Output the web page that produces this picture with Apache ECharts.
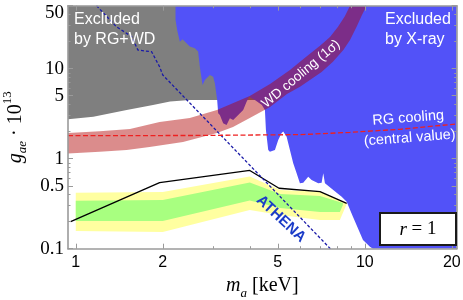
<!DOCTYPE html>
<html><head><meta charset="utf-8">
<script src="https://cdn.jsdelivr.net/npm/echarts@6/dist/echarts.min.js"></script>
<style>html,body{margin:0;padding:0;background:#fff}#c{width:463px;height:300px}</style>
</head><body><div id="c"></div>
<script>
// ---- tick values ----
const mTicksMajor = [1, 2, 5, 10, 20];
const mTicksMinor = [3, 4, 6, 7, 8, 9];
const gTicksMajor = [0.1, 0.5, 1, 5, 10, 50];
const gTicksMinor = [0.2, 0.3, 0.4, 0.6, 0.7, 0.8, 0.9, 2, 3, 4, 6, 7, 8, 9, 20, 30, 40];

// ---- regions [m_a (keV), g_ae*1e13] ----
const rgwdExcluded = [[0.94,50],[0.94,2.74],[1.15,2.93],[1.5,3.48],[1.85,3.95],[2.12,4.32],[2.48,4.49],[3.07,4.49],[6,4.49],[6,50]];
const xrayExcluded = [[2.214,50],[2.214,34.8],[2.243,26.9],[2.292,19.95],[2.342,21.2],[2.417,19.15],[2.481,17.56],[2.582,16.85],[2.651,15.45],[2.687,10.5],[2.746,6.59],[2.797,7.49],[2.911,8.51],[2.988,8.15],[3.029,6.88],[3.085,4.49],[3.11,3.19],[3.152,3.06],[3.236,2.47],[3.325,2.37],[3.414,2.81],[3.505,2.69],[3.648,3.06],[3.796,3.48],[3.9,4.3],[3.982,4.88],[4.059,4.69],[4.167,4.49],[4.406,3.95],[4.513,3.48],[4.549,2.08],[4.634,1.25],[4.696,1.196],[4.888,1.25],[5.018,1.61],[5.156,1.93],[5.222,2.0],[5.365,1.756],[5.508,1.25],[5.655,0.889],[5.81,0.688],[5.965,0.533],[6.124,0.541],[6.373,0.631],[6.548,0.58],[6.902,0.533],[7.092,0.541],[7.183,0.688],[7.281,0.533],[7.78,0.449],[8.318,0.378],[8.657,0.333],[9.101,0.227],[9.858,0.125],[10.42,0.105],[10.68,0.1],[20.8,0.1],[20.8,50]];
const coolingUpper = [[0.94,1.93],[1.21,2.01],[1.54,2.14],[1.95,2.56],[2.48,2.83],[3.08,3.48],[4.0,4.97],[4.7,6.76],[5.51,9.67],[5.97,11.9],[6.46,14.6],[7.0,17.9],[7.58,22.5],[8.08,29.1],[8.54,38.5],[8.89,50]];
const coolingLower = [[0.94,1.14],[1.21,1.19],[1.5,1.25],[1.8,1.35],[2.35,1.53],[3.08,1.93],[3.5,2.25],[4.0,2.83],[4.7,3.75],[5.38,5.23],[5.97,6.31],[6.46,7.49],[7.09,9.19],[7.76,11.9],[8.43,16.1],[8.89,20.8],[9.38,29.3],[9.78,39.5],[10.15,50]];
const rgCentral = [[0.94,1.80],[2.69,1.81],[5.97,1.85],[8.89,1.96],[13.2,2.12],[20.8,2.43]];
const yellowUpper = [[1,0.419],[2,0.427],[4,0.634],[5.1,0.449],[7,0.43],[8.66,0.318]];
const yellowLower = [[1,0.157],[2,0.153],[4,0.269],[5.1,0.237],[7,0.208],[8.2,0.208],[8.66,0.314]];
const greenUpper = [[1,0.341],[2,0.348],[4,0.544],[5.1,0.405],[7,0.385],[8.4,0.322]];
const greenLower = [[1,0.203],[2,0.203],[4,0.343],[5.1,0.283],[7,0.256],[8.2,0.256],[8.4,0.306]];
const blackLine = [[0.96,0.2],[1.95,0.541],[4.0,0.74],[5.05,0.469],[7.0,0.43],[8.66,0.319]];
const athena = [[1.18,50],[1.38,29.3],[1.56,22.7],[1.64,16.1],[1.83,15.4],[1.95,10.5],[2.0,8.5],[7.6,0.1]];

const L = v => Math.log10(v);
const XMIN = L(0.94), XMAX = L(20.8), YMIN = -1, YMAX = L(50);
const toLog = arr => arr.map(p => [L(p[0]), L(p[1])]);
const closed = (up, low) => up.concat(low.slice().reverse());

function polySeries(name, pts, fill, z) {
  const data = toLog(pts);
  return {
    type: 'custom', name, z, clip: true, silent: true, data, encode: {x: 0, y: 1},
    renderItem: (params, api) => {
      if (params.dataIndex !== 0) return null;
      return {type: 'polygon', shape: {points: data.map(d => api.coord(d))}, style: {fill}};
    }
  };
}
function lineSeries(name, pts, color, width, type, z) {
  return {type: 'line', name, z, data: toLog(pts), symbol: 'none', silent: true,
    lineStyle: {color, width, type}};
}
const AX = '#9a9a9a';
function axis(dim, pos, vals, len, showLine, extra) {
  const o = {
    type: 'value', position: pos, z: 50,
    min: dim === 'x' ? XMIN : YMIN, max: dim === 'x' ? XMAX : YMAX,
    axisLine: {show: showLine, onZero: false, lineStyle: {color: AX, width: 1.6}},
    axisTick: {show: true, inside: true, length: len, customValues: vals.map(L), lineStyle: {color: AX, width: 1}},
    axisLabel: {show: false},
    splitLine: {show: false}
  };
  return Object.assign(o, extra || {});
}
const serif = 'Liberation Serif';
const sans = 'Liberation Sans';

const xMain = axis('x', 'bottom', mTicksMajor, 5, true, {
  axisLabel: {show: true, customValues: mTicksMajor.map(L), margin: 6, color: '#000',
    fontFamily: sans, fontSize: 16,
    formatter: v => String(Math.round(Math.pow(10, v)))},
  name: '{m|m}{s|a}{t| [keV]}', nameLocation: 'middle', nameGap: 22,
  nameTextStyle: {color: '#000', rich: {
    m: {fontFamily: serif, fontStyle: 'italic', fontSize: 20, lineHeight: 28, verticalAlign: 'middle', color: '#000'},
    s: {fontFamily: serif, fontStyle: 'italic', fontSize: 13, lineHeight: 13, verticalAlign: 'bottom', color: '#000'},
    t: {fontFamily: serif, fontSize: 20, lineHeight: 28, verticalAlign: 'middle', color: '#000'}
  }}
});
const yMain = axis('y', 'left', gTicksMajor, 5, true, {
  axisLabel: {show: true, customValues: gTicksMajor.map(L), margin: 4, color: '#000',
    fontFamily: serif, fontSize: 19,
    formatter: v => {
      const g = Math.pow(10, v);
      if (Math.abs(g - 50) < 0.01) return '{top|50}';
      return g < 1 ? g.toFixed(1) : String(Math.round(g));
    },
    rich: {top: {fontFamily: serif, fontSize: 19, padding: [14, 0, 0, 0], color: '#000'}}
  },
  name: '{g|g}{s|ae}{t| · 10}{p|13}', nameLocation: 'middle', nameGap: 38, nameRotate: 90,
  nameTextStyle: {color: '#000', rich: {
    g: {fontFamily: serif, fontStyle: 'italic', fontSize: 20, lineHeight: 28, verticalAlign: 'middle', color: '#000'},
    s: {fontFamily: serif, fontStyle: 'italic', fontSize: 13, lineHeight: 13, verticalAlign: 'bottom', color: '#000'},
    t: {fontFamily: serif, fontSize: 20, lineHeight: 28, verticalAlign: 'middle', color: '#000'},
    p: {fontFamily: serif, fontSize: 13, lineHeight: 13, verticalAlign: 'top', color: '#000'}
  }}
});

const chart = echarts.init(document.getElementById('c'), null, {renderer: 'canvas'});
chart.setOption({
  animation: false,
  backgroundColor: '#fff',
  grid: {left: 68, right: 6.3, top: 5.7, bottom: 51.3, containLabel: false, outerBoundsMode: 'none'},
  xAxis: [xMain, axis('x', 'bottom', mTicksMinor, 2.5, false), axis('x', 'top', mTicksMajor, 5, true), axis('x', 'top', mTicksMinor, 2.5, false)],
  yAxis: [yMain, axis('y', 'left', gTicksMinor, 2.5, false), axis('y', 'right', gTicksMajor, 5, true), axis('y', 'right', gTicksMinor, 2.5, false)],
  series: [
    polySeries('Excluded by RG+WD', rgwdExcluded, '#7f7f7f', 1),
    polySeries('Excluded by X-ray', xrayExcluded, '#5252f8', 2),
    polySeries('WD cooling (1σ)', closed(coolingUpper, coolingLower), 'rgba(175,0,0,0.45)', 3),
    polySeries('2σ', closed(yellowUpper, yellowLower), '#ffffa0', 4),
    polySeries('1σ', closed(greenUpper, greenLower), '#a8ff80', 5),
    lineSeries('sensitivity', blackLine, '#000', 1.3, 'solid', 6),
    lineSeries('ATHENA', athena, '#1a1aa8', 1.3, [3, 2], 7),
    lineSeries('RG cooling', rgCentral, '#ee2020', 1.3, [5, 2.5], 8)
  ],
  graphic: {elements: [
    {type: 'text', z: 100, x: 74, y: 10, style: {text: 'Excluded\nby RG+WD', fill: '#fff', font: '16px "Liberation Sans"', lineHeight: 19.5, align: 'left', verticalAlign: 'top', textAlign: 'left', textVerticalAlign: 'top'}},
    {type: 'text', z: 100, x: 385, y: 10, style: {text: 'Excluded\nby X-ray', fill: '#fff', font: '16px "Liberation Sans"', lineHeight: 20, align: 'left', verticalAlign: 'top', textAlign: 'left', textVerticalAlign: 'top'}},
    {type: 'text', z: 100, x: 301, y: 74, rotation: 0.70, style: {text: 'WD cooling (1σ)', fill: '#fff', font: '13.5px "Liberation Sans"', align: 'center', verticalAlign: 'middle', textAlign: 'center', textVerticalAlign: 'middle'}},
    {type: 'text', z: 100, x: 409, y: 128, rotation: 0.075, style: {text: 'RG cooling\n(central value)', fill: '#fff', font: '14.5px "Liberation Sans"', lineHeight: 20, align: 'center', verticalAlign: 'middle', textAlign: 'center', textVerticalAlign: 'middle'}},
    {type: 'text', z: 100, x: 281, y: 219, rotation: -0.75, style: {text: 'ATHENA', fill: '#1c3cc8', font: 'bold 15px "Liberation Sans"', align: 'center', verticalAlign: 'middle', textAlign: 'center', textVerticalAlign: 'middle'}},
    {type: 'rect', z: 100, shape: {x: 380, y: 213, width: 76, height: 32}, style: {fill: '#fff', stroke: '#1a1a1a', lineWidth: 2}},
    {type: 'text', z: 101, x: 418, y: 229.5, style: {text: '{i|r} = 1', rich: {i: {fontStyle: 'italic', fontFamily: serif, fontSize: 19, fill: '#000'}}, font: '19px "Liberation Serif"', fill: '#000', align: 'center', verticalAlign: 'middle', textAlign: 'center', textVerticalAlign: 'middle'}}
  ]}
});
</script></body></html>
